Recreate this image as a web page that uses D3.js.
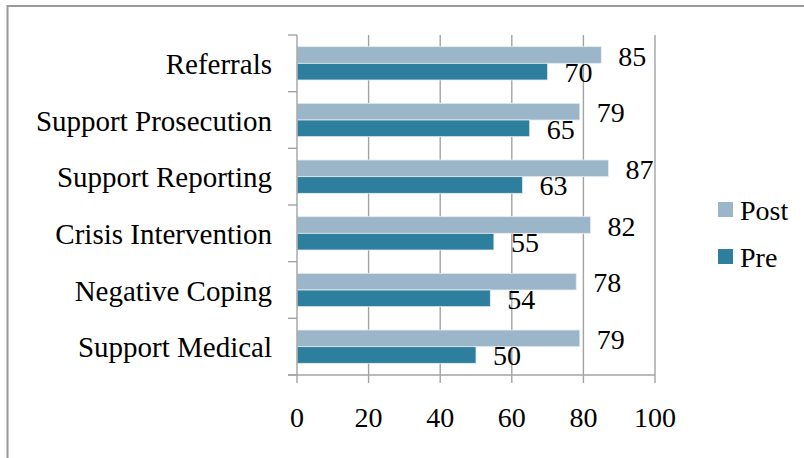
<!DOCTYPE html>
<html>
<head>
<meta charset="utf-8">
<script src="https://cdn.jsdelivr.net/npm/d3@7"></script>
<style>
  body { margin: 0; background: #fff; }
  text { font-family: "Liberation Serif", serif; fill: #000; }
</style>
</head>
<body>
<script>
// chart data
var categories = ["Referrals", "Support Prosecution", "Support Reporting",
                  "Crisis Intervention", "Negative Coping", "Support Medical"];
var postValues = [85, 79, 87, 82, 78, 79];
var preValues = [70, 65, 63, 55, 54, 50];
var seriesNames = ["Post", "Pre"];
var xTicks = [0, 20, 40, 60, 80, 100];

var width = 804,
    height = 458;

var colors = {Post: "#9bb6c8", Pre: "#2d7f9d"};

var svg = d3.select("body").append("svg")
    .attr("width", width)
    .attr("height", height);

// outer frame, only top and left are visible in the crop
svg.append("path")
    .attr("d", "M7.5,460 V6 H806")
    .attr("fill", "none")
    .attr("stroke", "#9a9a9a")
    .attr("stroke-width", 2);

var x = d3.scaleLinear().domain([0, 100]).range([297, 655]);
var y = d3.scaleBand().domain(categories).range([35, 375]);
var ySub = d3.scaleBand().domain(seriesNames).range([0, y.bandwidth()]).paddingOuter(0.7);

var rows = categories.map(function(c, i) {
    return {cat: c, Post: postValues[i], Pre: preValues[i]};
});

var gridColor = "#a3a3a3";

// vertical gridlines
svg.append("g").selectAll("line")
    .data(xTicks.slice(1))
  .enter().append("line")
    .attr("x1", function(d) { return x(d); })
    .attr("x2", function(d) { return x(d); })
    .attr("y1", 35)
    .attr("y2", 375)
    .attr("stroke", gridColor)
    .attr("stroke-width", 1.4);

// bars
var groups = svg.append("g").selectAll("g")
    .data(rows)
  .enter().append("g")
    .attr("transform", function(d) { return "translate(0," + y(d.cat) + ")"; });

groups.selectAll("rect")
    .data(function(d) { return seriesNames.map(function(s) { return {key: s, value: d[s]}; }); })
  .enter().append("rect")
    .attr("x", x(0))
    .attr("y", function(d) { return ySub(d.key); })
    .attr("width", function(d) { return x(d.value) - x(0); })
    .attr("height", ySub.bandwidth())
    .attr("fill", function(d) { return colors[d.key]; })
    .attr("stroke", "#e4edf2")
    .attr("stroke-width", 0.8);

// value labels
groups.selectAll("text")
    .data(function(d) { return seriesNames.map(function(s) { return {key: s, value: d[s]}; }); })
  .enter().append("text")
    .attr("x", function(d) { return x(d.value) + 17; })
    .attr("y", function(d) { return ySub(d.key) + ySub.bandwidth() / 2 + 10.5; })
    .attr("font-size", 28)
    .text(function(d) { return d.value; });

// left axis
var yAxis = svg.append("g")
    .attr("transform", "translate(" + x(0) + ",0)");
yAxis.append("line")
    .attr("y1", 35).attr("y2", 375)
    .attr("stroke", gridColor).attr("stroke-width", 1.4);
yAxis.selectAll(".tick")
    .data(d3.range(categories.length + 1))
  .enter().append("line")
    .attr("class", "tick")
    .attr("x1", -9).attr("x2", 0)
    .attr("y1", function(i) { return 35 + i * y.step(); })
    .attr("y2", function(i) { return 35 + i * y.step(); })
    .attr("stroke", gridColor).attr("stroke-width", 1.4);
yAxis.selectAll(".cat")
    .data(categories)
  .enter().append("text")
    .attr("class", "cat")
    .attr("x", -25)
    .attr("y", function(d) { return y(d) + y.bandwidth() / 2 + 10.5; })
    .attr("text-anchor", "end")
    .attr("font-size", 29)
    .text(function(d) { return d; });

// bottom axis
var xAxis = svg.append("g")
    .attr("transform", "translate(0,375)");
xAxis.append("line")
    .attr("x1", x(0) - 9).attr("x2", x(100))
    .attr("stroke", gridColor).attr("stroke-width", 1.4);
xAxis.selectAll(".tick")
    .data(xTicks)
  .enter().append("line")
    .attr("class", "tick")
    .attr("x1", function(d) { return x(d); })
    .attr("x2", function(d) { return x(d); })
    .attr("y1", 0).attr("y2", 8)
    .attr("stroke", gridColor).attr("stroke-width", 1.4);
xAxis.selectAll(".lbl")
    .data(xTicks)
  .enter().append("text")
    .attr("class", "lbl")
    .attr("x", function(d) { return x(d); })
    .attr("y", 52)
    .attr("text-anchor", "middle")
    .attr("font-size", 28)
    .text(function(d) { return d; });

// legend
var legend = svg.append("g").selectAll("g")
    .data(seriesNames)
  .enter().append("g")
    .attr("transform", function(d, i) { return "translate(718," + (202 + i * 47) + ")"; });
legend.append("rect")
    .attr("width", 15).attr("height", 15)
    .attr("fill", function(d) { return colors[d]; });
legend.append("text")
    .attr("x", 22).attr("y", 18)
    .attr("font-size", 28)
    .text(function(d) { return d; });
</script>
</body>
</html>
